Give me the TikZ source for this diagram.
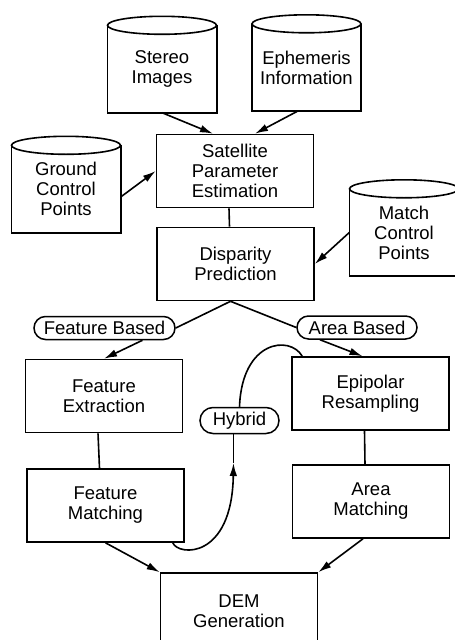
\documentclass[tikz,border=0pt]{standalone}
\usepackage{fontspec}
\setmainfont{Liberation Sans}
\usepackage{tikz}
\usetikzlibrary{shapes.misc, arrows.meta, positioning, calc}

\tikzset{
  box/.style={draw, line width=1.6pt, minimum width=157, minimum height=73, align=center, inner sep=0pt},
  drum/.style={minimum width=109, minimum height=87, align=center, inner sep=0pt},
  pill/.style={draw, rounded rectangle, line width=1.5pt, minimum height=23, inner sep=0pt},
  conn/.style={line width=1.6pt},
  arr/.style={conn, -{Latex[length=13pt,width=7.5pt]}}
}

% drum outline around a drum node
\newcommand{\drumline}[1]{%
  \draw[conn] (#1.north west) -- (#1.south west) -- (#1.south east) -- (#1.north east);
  \draw[conn, fill=white] (#1.north) ellipse (54.5 and 9);
}

\begin{document}
\begin{tikzpicture}[x=1pt, y=-1pt, font=\fontsize{18.5}{20}\selectfont]
  \useasboundingbox (0,0) rectangle (455,640);
  \clip (0,0) rectangle (455,640);

  % Data stores
  \node[drum] (stereo) at (162,69) {Stereo\\Images};
  \node[drum] (ephem) at (306.5,67.5) {Ephemeris\\Information};
  \node[drum] (ground) at (66,189) {Ground\\Control\\Points};
  \node[drum] (match) at (404,232.5) {Match\\Control\\Points};
  \drumline{stereo}
  \drumline{ephem}
  \drumline{ground}
  \drumline{match}

  % Processing steps
  \node[box] (sat) at (235,171) {Satellite\\Parameter\\Estimation};
  \node[box] (disp) at (235.5,264) {Disparity\\Prediction};
  \node[box] (fext) at (104,396) {Feature\\Extraction};
  \node[box] (epi) at (370.5,393.5) {Epipolar\\Resampling};
  \node[box] (fmat) at (105.5,505.5) {Feature\\Matching};
  \node[box] (amat) at (371,501.5) {Area\\Matching};
  \node[box, minimum height=76] (dem) at (239,611) {DEM\\Generation};

  % Method labels
  \node[pill, minimum width=141] (fb) at (104.5,328) {Feature Based};
  \node[pill, minimum width=120] (ab) at (357,327.5) {Area Based};
  \node[pill, minimum width=79, minimum height=26] (hyb) at (239.5,420.5) {Hybrid};

  % Inputs to estimation
  \draw[arr] (stereo.south) -- ([xshift=-22]sat.north);
  \draw[arr] ([xshift=-9]ephem.south) -- ([xshift=20]sat.north);
  \draw[arr] ([yshift=-8]ground.east) -- (sat.west);
  \draw[conn] ([xshift=-6]sat.south) -- ([xshift=-6]disp.north);
  \draw[arr] (match.west) -- (disp.east);

  % Split into the two branches
  \draw[conn] ([xshift=-5]disp.south) -- (fb.east);
  \draw[conn] ([xshift=-5]disp.south) -- (ab.west);
  \draw[arr] ([xshift=38]fb.south) -- (fext.north);
  \draw[arr] ([xshift=-37]ab.south) -- ([xshift=-8]epi.north);
  \draw[conn] ([xshift=-6]fext.south) -- ([xshift=-6]fmat.north);
  \draw[conn] ([xshift=-6]epi.south) -- ([xshift=-6]amat.north);

  % Hybrid link
  \coordinate (hytip) at (233.5,463);
  \draw[arr] ([xshift=-12]fmat.south east) .. controls (178,556) and (232,560) .. (hytip);
  \draw[conn] (hytip) -- (hytip |- hyb.south);
  \draw[conn] (hyb.north) .. controls (242,340) and (290,335) .. ([xshift=11]epi.north west);

  % Into DEM generation
  \draw[arr] (fmat.south) -- (dem.north west);
  \draw[arr] ([xshift=-8]amat.south) -- (dem.north east);
\end{tikzpicture}
\end{document}
